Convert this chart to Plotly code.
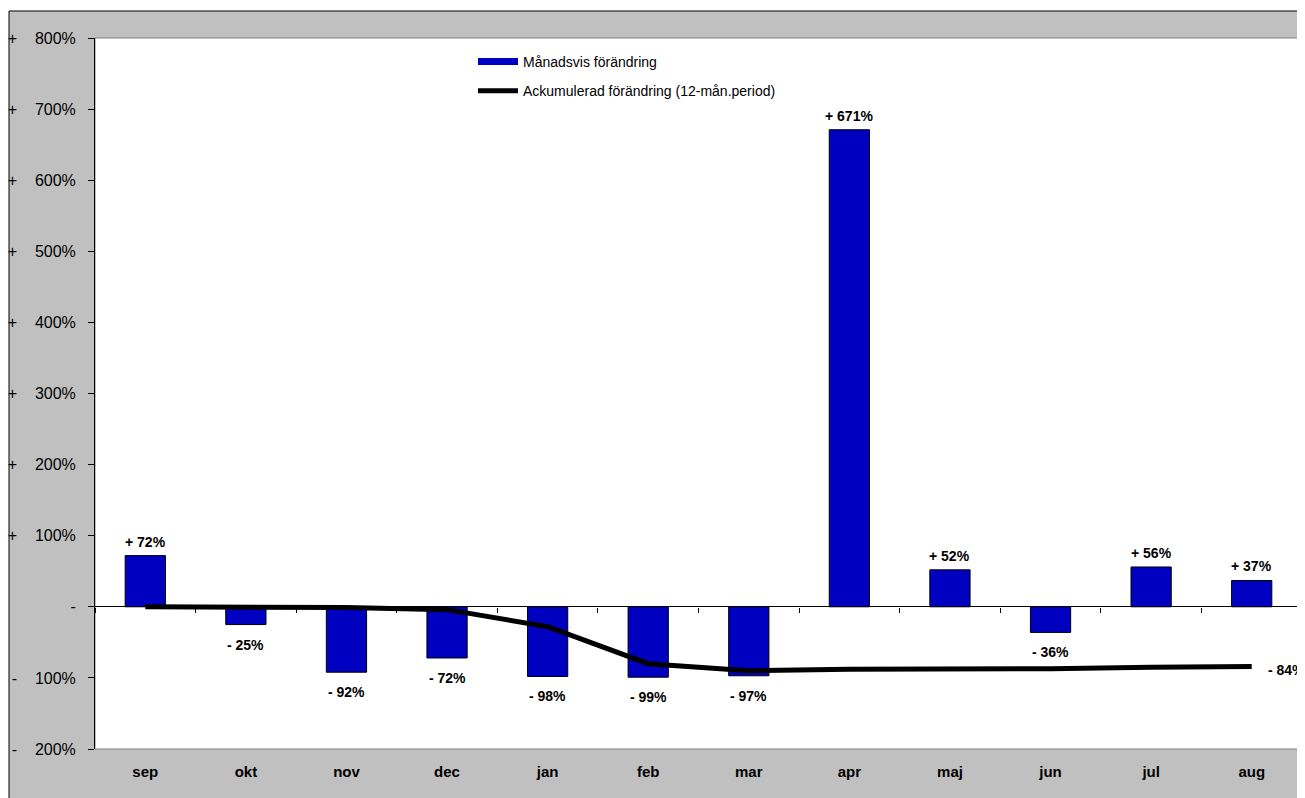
import plotly.graph_objects as go

months = ["sep", "okt", "nov", "dec", "jan", "feb", "mar", "apr", "maj", "jun", "jul", "aug"]
monthly_change = [72, -25, -92, -72, -98, -99, -97, 671, 52, -36, 56, 37]
cumulative_change = [0, 0, -1, -4, -28, -80, -90, -88, -88, -87, -85, -84]
ytick_values = [-200, -100, 0, 100, 200, 300, 400, 500, 600, 700, 800]

bar_name = "Månadsvis förändring"
line_name = "Ackumulerad förändring (12-mån.period)"

# figure size and margins (page body adds an 8px offset)
W, H = 1305, 798
OFF = 8
ML, MR, MT, MB = 87, 11, 30, 57
PW, PH = W - ML - MR, H - MT - MB


def px_x(sx):
    return (sx - OFF - ML) / PW


def px_y(sy):
    return (MT + PH - (sy - OFF)) / PH


def fmt_label(v):
    if v > 0:
        return "+ %d%%" % v
    if v < 0:
        return "- %d%%" % abs(v)
    return "-"


def fmt_tick(v):
    if v == 0:
        return "-"
    sign = "+" if v > 0 else "-"
    return sign + "\u00a0\u00a0\u00a0\u00a0" + "%d%%" % abs(v)


FONT = "Liberation Sans, Arial, sans-serif"

fig = go.Figure()

fig.add_trace(go.Bar(
    x=months, y=monthly_change, name=bar_name, showlegend=False,
    marker=dict(color="#0000C0", line=dict(color="black", width=1)),
    width=0.4, xaxis="x", yaxis="y", legendgroup="a",
))
# legend entry for bars
fig.add_trace(go.Scatter(
    x=[None], y=[None], mode="lines", name=bar_name,
    line=dict(color="#0000C0", width=7), legendgroup="a",
))
fig.add_trace(go.Scatter(
    x=months, y=cumulative_change, mode="lines", name=line_name,
    line=dict(color="black", width=5), xaxis="x2", yaxis="y", legendgroup="b",
))

annotations = []
for m, v in zip(months, monthly_change):
    annotations.append(dict(
        x=m, y=v, xref="x", yref="y", text=fmt_label(v), showarrow=False,
        yanchor="middle", yshift=14 if v > 0 else -20,
        font=dict(family=FONT, size=14, color="black", weight=700),
    ))
annotations.append(dict(
    x=months[-1], y=cumulative_change[-1], xref="x", yref="y",
    text=fmt_label(cumulative_change[-1]), showarrow=False,
    xanchor="left", yanchor="middle", xshift=14, yshift=-3,
    font=dict(family=FONT, size=14, color="black", weight=700),
))

shapes = [
    # white strips outside the chart frame
    dict(type="rect", xref="paper", yref="paper", x0=px_x(0), x1=px_x(9), y0=px_y(H + 20), y1=px_y(0),
         fillcolor="white", line=dict(width=0), layer="below"),
    dict(type="rect", xref="paper", yref="paper", x0=px_x(0), x1=px_x(W + 20), y0=px_y(11), y1=px_y(0),
         fillcolor="white", line=dict(width=0), layer="below"),
    # chart frame
    dict(type="rect", xref="paper", yref="paper", x0=px_x(9), x1=px_x(W + 30), y0=px_y(H + 30), y1=px_y(11),
         fillcolor="rgba(0,0,0,0)", line=dict(color="black", width=1), layer="below"),
    # plot-area border
    dict(type="rect", xref="paper", yref="paper", x0=0, x1=1, y0=0, y1=1,
         fillcolor="rgba(0,0,0,0)", line=dict(color="#808080", width=1), layer="below"),
]

zero_pos = (0 - ytick_values[0]) / (ytick_values[-1] - ytick_values[0])

fig.update_layout(
    width=W, height=H,
    margin=dict(l=ML, r=MR, t=MT, b=MB, pad=0, autoexpand=False),
    paper_bgcolor="#C0C0C0", plot_bgcolor="white",
    font=dict(family=FONT, color="black"),
    bargap=0.6,
    showlegend=True,
    legend=dict(
        x=px_x(473), y=px_y(46), xanchor="left", yanchor="top",
        bgcolor="rgba(0,0,0,0)", borderwidth=0,
        font=dict(family=FONT, size=14, color="black"),
        traceorder="grouped", tracegroupgap=8, itemwidth=40,
    ),
    xaxis=dict(
        type="category", categoryorder="array", categoryarray=months,
        range=[-0.5, len(months) - 0.5], automargin=False,
        showline=False, showgrid=False, zeroline=False, ticks="",
        ticklabelstandoff=12,
        tickfont=dict(family=FONT, size=15, color="black", weight=700),
    ),
    xaxis2=dict(
        type="category", categoryorder="array", categoryarray=months,
        range=[-0.5, len(months) - 0.5], automargin=False,
        overlaying="x", anchor="free", position=zero_pos, side="bottom",
        showline=False, showgrid=False, zeroline=False,
        ticks="outside", ticklen=5, tickcolor="black", tickwidth=1,
        tickson="boundaries", showticklabels=False,
    ),
    yaxis=dict(
        range=[ytick_values[0], ytick_values[-1]], automargin=False,
        tickvals=ytick_values, ticktext=[fmt_tick(v) for v in ytick_values],
        showline=True, linecolor="black", linewidth=1,
        ticks="outside", ticklen=6, tickcolor="black",
        showgrid=False, zeroline=True, zerolinecolor="black", zerolinewidth=1,
        ticklabelstandoff=9,
        tickfont=dict(family=FONT, size=16, color="black"),
    ),
    annotations=annotations,
    shapes=shapes,
)

fig.write_html("out.html")
